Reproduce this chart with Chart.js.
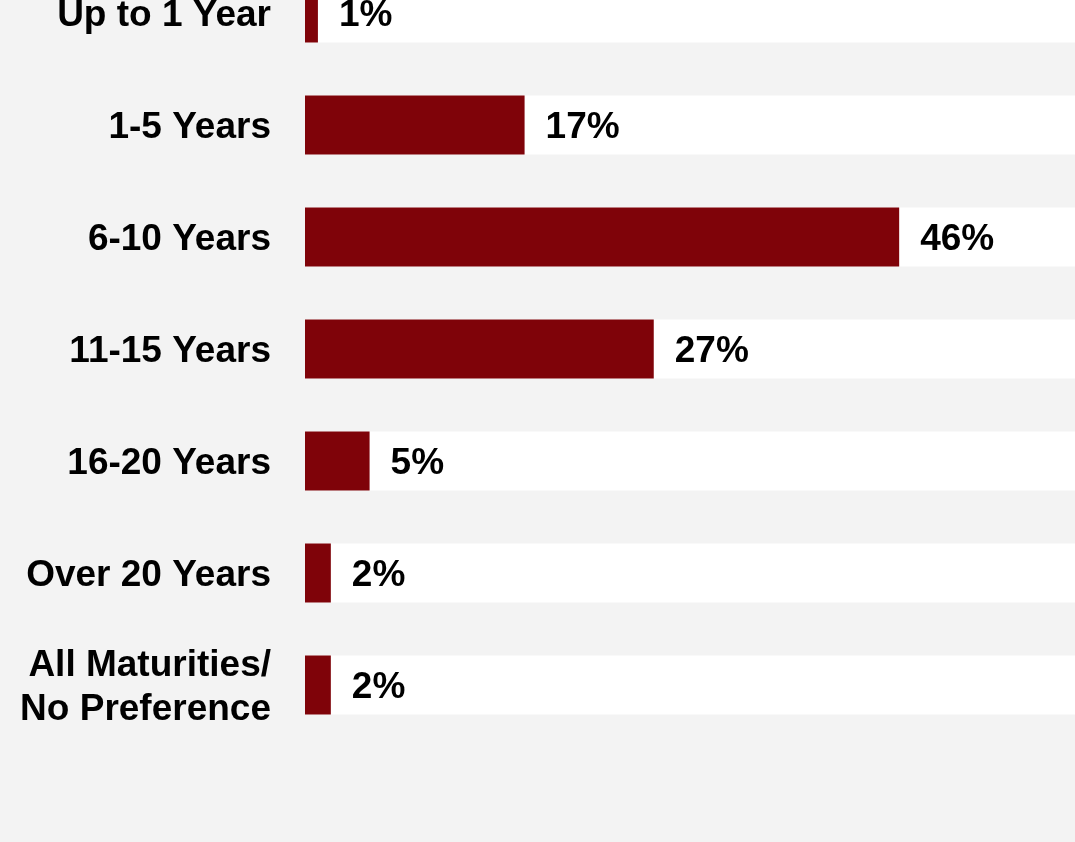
<!DOCTYPE html>
<html>
<head>
<meta charset="utf-8">
<script src="https://cdn.jsdelivr.net/npm/chart.js@4"></script>
<style>
  html, body { margin: 0; padding: 0; background: #f3f3f3; overflow: hidden; width: 1075px; height: 842px; }
  #wrap { position: absolute; left: 0; top: -43px; width: 1080px; height: 885px; }
</style>
</head>
<body>
<div id="wrap"><canvas id="c"></canvas></div>
<script>
const categories = ["Up to 1 Year", "1-5 Years", "6-10 Years", "11-15 Years", "16-20 Years", "Over 20 Years", ["All Maturities/", "No Preference"]];
const shares = [1, 17, 46, 27, 5, 2, 2];
const axisMax = 60;
const trackValues = categories.map(() => axisMax);

const valueLabels = {
  id: 'valueLabels',
  afterDatasetsDraw(chart) {
    const ctx = chart.ctx;
    const meta = chart.getDatasetMeta(0);
    ctx.save();
    ctx.font = 'bold 37px "Liberation Sans", Arial, sans-serif';
    ctx.fillStyle = '#000';
    ctx.textAlign = 'left';
    ctx.textBaseline = 'middle';
    meta.data.forEach((bar, i) => {
      ctx.fillText(shares[i] + '%', bar.x + 21, bar.y + 3);
    });
    ctx.restore();
  }
};

new Chart(document.getElementById('c'), {
  type: 'bar',
  data: {
    labels: categories,
    datasets: [
      { data: shares, backgroundColor: '#7f0309', grouped: false, barPercentage: 59/112, categoryPercentage: 1 },
      { data: trackValues, backgroundColor: '#ffffff', grouped: false, barPercentage: 59/112, categoryPercentage: 1 }
    ]
  },
  options: {
    indexAxis: 'y',
    responsive: true,
    maintainAspectRatio: false,
    animation: false,
    layout: { padding: { top: 0, bottom: 101, left: 0, right: 0 } },
    plugins: { legend: { display: false }, tooltip: { enabled: false } },
    scales: {
      x: { display: false, min: 0, max: axisMax },
      y: {
        afterFit(scale) { scale.width = 305; scale.paddingTop = 0; scale.paddingBottom = 0; },
        grid: { display: false, drawTicks: false },
        border: { display: false },
        ticks: {
          color: '#000',
          padding: 34,
          labelOffset: 3,
          crossAlign: 'near',
          font: { family: '"Liberation Sans", Arial, sans-serif', size: 37, weight: 'bold', lineHeight: 1.2 }
        }
      }
    }
  },
  plugins: [valueLabels]
});
</script>
</body>
</html>
